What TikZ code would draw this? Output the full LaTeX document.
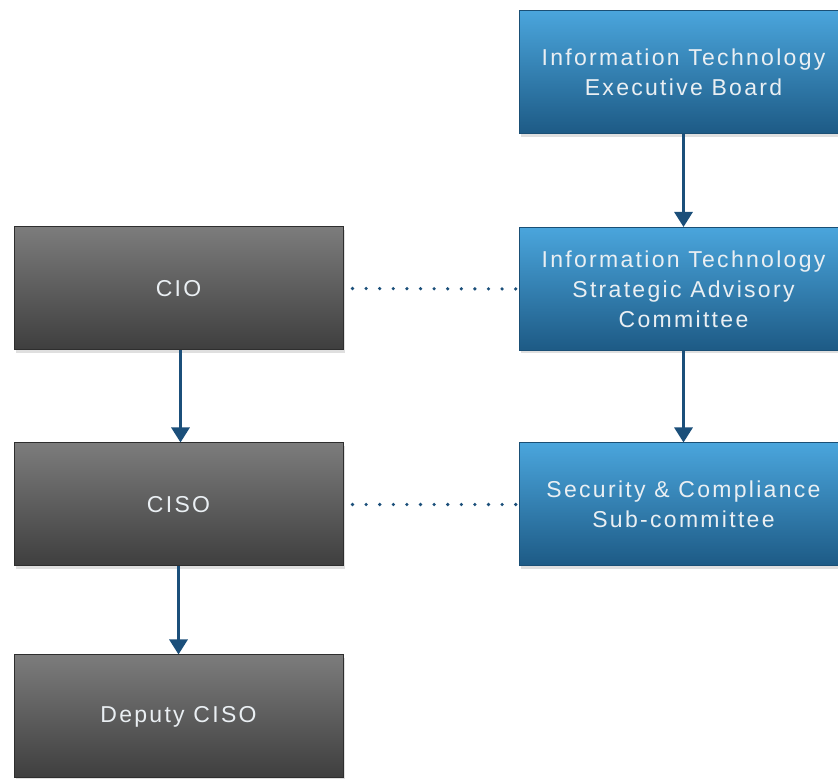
\documentclass[tikz,border=0pt]{standalone}
\usepackage{fontspec}
\setmainfont{Liberation Sans}[LetterSpace=10]
\usetikzlibrary{shadows,arrows.meta}
\definecolor{blueTop}{HTML}{4AA5DC}
\definecolor{blueBot}{HTML}{1D5A85}
\definecolor{blueEdge}{HTML}{1A4F75}
\definecolor{greyTop}{HTML}{7C7C7C}
\definecolor{greyBot}{HTML}{3E3E3E}
\definecolor{greyEdge}{HTML}{2E2E2E}
\definecolor{lineblue}{HTML}{1B4F7A}
\definecolor{txt}{HTML}{EAEFF3}
\tikzset{
  boxbase/.style={rectangle, minimum width=329pt, minimum height=123pt,
    inner sep=0pt, align=center, text=txt, line width=1pt,
    font=\fontsize{23}{30}\selectfont,
    drop shadow={opacity=0.25, shadow xshift=2pt, shadow yshift=-3pt}},
  bluebox/.style={boxbase, draw=blueEdge, top color=blueTop, bottom color=blueBot},
  greybox/.style={boxbase, draw=greyEdge, top color=greyTop, bottom color=greyBot},
  arr/.style={draw=lineblue, line width=3pt, -{Triangle[length=15pt,width=18pt]}},
  dotline/.style={draw=lineblue, line width=3.6pt, line cap=round, dash pattern=on 0pt off 13.6pt}
}
\begin{document}
\begin{tikzpicture}[x=1pt,y=1pt]
\useasboundingbox (0,0) rectangle (838,779);
\node[bluebox] (iteb) at (683.5,706.5) {Information Technology\\Executive Board};
\node[bluebox] (itsac) at (683.5,490) {Information Technology\\Strategic Advisory\\Committee};
\node[bluebox] (scs) at (683.5,274.5) {Security \& Compliance\\Sub-committee};
\node[greybox] (cio) at (178.5,490.5) {CIO};
\node[greybox] (ciso) at (178.5,274.5) {CISO};
\node[greybox] (dep) at (178.5,62.5) {Deputy CISO};
\draw[arr] (iteb.south) -- (itsac.north);
\draw[arr] (itsac.south) -- (scs.north);
\draw[arr] ([xshift=2pt]cio.south) -- ([xshift=2pt]ciso.north);
\draw[arr] (ciso.south) -- (dep.north);
\draw[dotline] ([xshift=9pt]cio.east) -- (itsac.west);
\draw[dotline] ([xshift=9pt]ciso.east) -- (scs.west);
\end{tikzpicture}
\end{document}
